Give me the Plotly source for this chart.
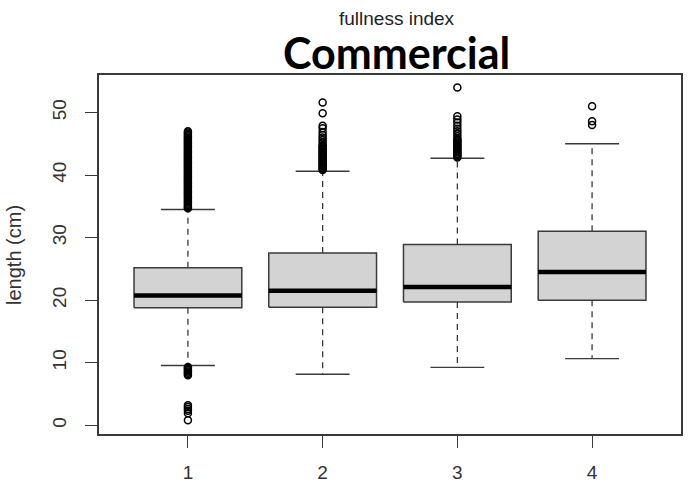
import plotly.graph_objects as go

# Fullness-index groups and their box statistics (length, cm)
groups = [1, 2, 3, 4]
lower_whisker = [9.55, 8.15, 9.25, 10.65]
q1 = [18.8, 18.85, 19.7, 20.0]
median = [20.75, 21.5, 22.1, 24.5]
q3 = [25.2, 27.55, 28.9, 31.0]
upper_whisker = [34.5, 40.6, 42.7, 45.0]

# Outlying observations per group
outliers_1 = [
    34.7, 34.8, 35.0, 35.2, 35.4, 35.6, 35.8, 36.0, 36.2, 36.4, 36.6, 36.8,
    37.0, 37.2, 37.4, 37.6, 37.8, 38.0, 38.2, 38.4, 38.6, 38.8, 39.0, 39.2,
    39.4, 39.6, 39.8, 40.0, 40.2, 40.4, 40.6, 40.8, 41.0, 41.2, 41.4, 41.6,
    41.8, 42.0, 42.2, 42.4, 42.6, 42.8, 43.0, 43.2, 43.4, 43.6, 43.8, 44.0,
    44.2, 44.4, 44.6, 44.8, 45.0, 45.2, 45.4, 45.6, 45.8, 46.0, 46.2, 46.4,
    46.6, 46.8, 47.0,
    8.0, 8.2, 8.4, 8.6, 8.8, 9.0, 9.2, 9.3,
    0.8, 1.9, 2.3, 2.6, 2.9, 3.2,
]
outliers_2 = [
    51.6, 49.9, 47.9, 47.5, 46.9, 46.4, 46.0, 45.6, 45.2, 44.8, 44.6, 44.4,
    44.2, 44.0, 43.8, 43.6, 43.4, 43.2, 43.0, 42.8, 42.6, 42.4, 42.2, 42.0,
    41.8, 41.6, 41.4, 41.2, 41.0, 40.8,
]
outliers_3 = [
    54.0, 49.4, 48.9, 48.4, 47.9, 47.4, 47.0, 46.6, 46.2, 45.8, 45.6, 45.4,
    45.2, 45.0, 44.8, 44.6, 44.4, 44.2, 44.0, 43.8, 43.6, 43.4, 43.2, 43.0,
    42.8,
]
outliers_4 = [51.0, 48.6, 48.0]
outliers = [outliers_1, outliers_2, outliers_3, outliers_4]

y_ticks = [0, 10, 20, 30, 40, 50]

BOX_HALF = 0.4
CAP_HALF = 0.2
EDGE = "#3a3a3a"

fig = go.Figure()

for g, lw, a, m, b, uw, outs in zip(groups, lower_whisker, q1, median, q3,
                                    upper_whisker, outliers):
    # dashed whiskers
    fig.add_trace(go.Scatter(
        x=[g, g, None, g, g], y=[b, uw, None, a, lw], mode="lines",
        line=dict(color=EDGE, width=1.3, dash="6px,5px"),
        hoverinfo="skip", showlegend=False))
    # staples
    fig.add_trace(go.Scatter(
        x=[g - CAP_HALF, g + CAP_HALF, None, g - CAP_HALF, g + CAP_HALF],
        y=[uw, uw, None, lw, lw], mode="lines",
        line=dict(color=EDGE, width=1.4),
        hoverinfo="skip", showlegend=False))
    # box
    fig.add_trace(go.Scatter(
        x=[g - BOX_HALF, g + BOX_HALF, g + BOX_HALF, g - BOX_HALF, g - BOX_HALF],
        y=[a, a, b, b, a], mode="lines", fill="toself",
        fillcolor="#d3d3d3", line=dict(color=EDGE, width=1.5),
        hoverinfo="skip", showlegend=False))
    # median
    fig.add_trace(go.Scatter(
        x=[g - BOX_HALF, g + BOX_HALF], y=[m, m], mode="lines",
        line=dict(color="black", width=4.5),
        hoverinfo="skip", showlegend=False))
    # outliers
    fig.add_trace(go.Scatter(
        x=[g] * len(outs), y=outs, mode="markers",
        marker=dict(symbol="circle-open", size=7, color="black",
                    line=dict(width=1.5)),
        hoverinfo="skip", showlegend=False))

tick_font = dict(family="Liberation Sans, Arial, sans-serif", size=19,
                 color="#333333")

fig.update_layout(
    width=688, height=488,
    margin=dict(l=99, r=5, t=75, b=51),
    paper_bgcolor="white", plot_bgcolor="white",
    xaxis=dict(
        range=[0.34, 4.66], tickmode="array", tickvals=groups,
        ticktext=[str(g) for g in groups],
        ticks="outside", ticklen=12, tickwidth=1.3, tickcolor=EDGE,
        showgrid=False, zeroline=False,
        showline=True, mirror=True, linecolor=EDGE, linewidth=1.5,
        tickfont=tick_font, ticklabelstandoff=8,
    ),
    yaxis=dict(
        range=[-1.4, 56.0], tickmode="array", tickvals=y_ticks,
        ticks="outside", ticklen=12, tickwidth=1.3, tickcolor=EDGE,
        showgrid=False, zeroline=False,
        showline=True, mirror=True, linecolor=EDGE, linewidth=1.5,
        tickfont=tick_font, tickangle=-90, ticklabelstandoff=12,
    ),
    annotations=[
        dict(text="fullness index", xref="paper", yref="paper",
             x=0.512, y=1.156, xanchor="center", yanchor="middle",
             showarrow=False,
             font=dict(family="Liberation Sans, Arial, sans-serif", size=19,
                       color="#222222")),
        dict(text="<b>Commercial</b>", xref="paper", yref="paper",
             x=0.512, y=1.062, xanchor="center", yanchor="middle",
             showarrow=False,
             font=dict(family="Lato, sans-serif", size=43, color="black")),
        dict(text="length (cm)", xref="paper", yref="paper",
             x=-0.147, y=0.5, xanchor="center", yanchor="middle",
             textangle=-90, showarrow=False,
             font=dict(family="Liberation Sans, Arial, sans-serif", size=20,
                       color="#333333")),
    ],
)

fig.write_html("out.html")
